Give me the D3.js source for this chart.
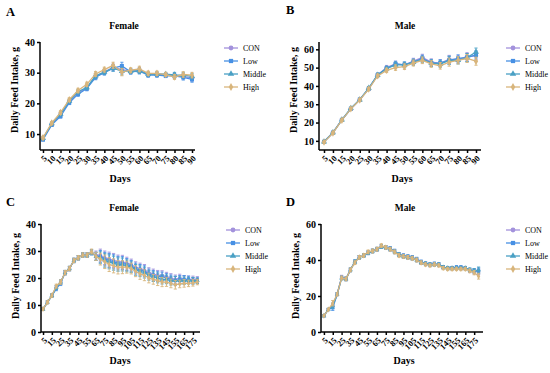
<!DOCTYPE html>
<html>
<head>
<meta charset="utf-8">
<script src="https://cdn.jsdelivr.net/npm/d3@7"></script>
<style>
  body { margin: 0; background: #fff; }
  text { font-family: "Liberation Serif", "Times New Roman", serif; }
</style>
</head>
<body>
<script>
// groups and colours
var groups = ["CON", "Low", "Middle", "High"];
var colors = ["#a392dc", "#4790e4", "#4aa0c4", "#d8b57c"];
var symbols = [d3.symbolCircle, d3.symbolSquare, d3.symbolTriangle, d3.symbolDiamond];

// days (90 day trials)
var daysShort = [5,10,15,20,25,30,35,40,45,50,55,60,65,70,75,80,85,90];
var ticksShort = [5,10,15,20,25,30,35,40,45,50,55,60,65,70,75,80,85,90];
// days (180 day trials)
var daysLong = [5,10,15,20,25,30,35,40,45,50,55,60,65,70,75,80,85,90,95,100,105,110,115,120,125,130,135,140,145,150,155,160,165,170,175,180];
var ticksLong = [5,15,25,35,45,55,65,75,85,95,105,115,125,135,145,155,165,175];

// A - female, 90 days
var aCON    = [8.5,13.2,16.3,20.5,23.5,25.0,28.8,30.2,31.8,31.0,30.5,30.8,29.5,29.5,29.3,29.0,28.8,28.2];
var aLow    = [8.2,13.0,15.8,20.2,23.0,24.8,28.5,30.0,31.5,32.2,30.3,30.5,29.2,29.2,29.0,29.0,28.5,27.8];
var aMiddle = [8.6,13.4,16.5,20.8,23.8,25.2,29.0,30.2,31.5,30.5,30.5,30.6,29.5,29.6,29.5,29.3,29.2,28.8];
var aHigh   = [8.8,13.6,17.0,21.2,24.2,26.2,29.6,31.0,32.4,30.2,30.8,31.2,29.8,29.8,29.4,28.6,29.4,29.2];
var aErr    = [0.5,0.5,0.6,0.6,0.7,0.7,0.8,0.8,1.0,1.2,0.8,0.9,0.7,0.7,0.6,0.8,0.9,0.9];

// B - male, 90 days
var bCON    = [9.5,14.5,21.5,27.5,32.5,38.5,46.0,50.0,52.0,51.5,53.5,55.5,53.0,52.5,54.5,54.5,56.0,56.5];
var bLow    = [9.5,14.5,21.5,27.5,32.5,38.5,46.0,49.5,52.0,51.5,53.0,55.0,52.5,52.5,54.0,55.0,55.5,57.0];
var bMiddle = [9.5,14.5,21.5,27.8,32.5,38.8,46.0,49.5,51.5,51.5,53.0,54.5,52.5,52.0,54.0,54.0,55.5,58.5];
var bHigh   = [9.3,14.3,21.3,27.5,32.3,38.3,45.5,48.5,50.0,50.5,52.5,54.0,52.0,51.0,53.0,54.0,55.0,53.5];
var bErr    = [0.6,0.6,0.7,0.7,0.8,0.9,1.0,1.2,1.5,1.5,1.6,1.8,1.8,1.8,2.2,2.0,2.2,2.2];

// C - female, 180 days
var cCON    = [8.5,11,13.5,16.5,18.5,22,23.5,26.5,27.5,28.5,28.5,29.5,28.5,28.5,27.5,27,26.5,26,26,25.5,25,24,23.5,23,22,21.5,21,21,20.5,20,19.5,20,19.5,19.5,19.5,19.5];
var cLow    = [8.5,11,13.5,16,18,22,23.5,26.5,27.5,28.5,28.5,29.5,28,28,27,26.5,26,25.5,25.5,25,24.5,23.5,23,22.5,21.5,21,20.5,20.5,20,19.5,19,19.5,19.5,19.5,19,19];
var cMiddle = [8.5,11,13.5,16.5,18.5,22,23.5,26.5,27.5,28.5,28.5,29.5,28,27.5,26.5,26,25.5,25,25,24.5,24,23,22.5,22,21,20.5,20,19.5,19.5,19,19,19,19,19,19,19];
var cHigh   = [8.5,11,13.5,17,18.5,22,23.5,26.5,27.5,28.5,28.5,29.8,28,27,26,25,24.5,24,24,24,23.5,22.5,21.5,21,20,19.5,19,18.5,18.5,18,17.5,17.8,18,18,18.2,18.5];
var cErr    = [0.4,0.5,0.6,0.7,0.8,0.8,0.8,0.8,0.8,0.8,0.8,0.9,1.5,2.2,2.5,2.6,2.6,2.5,2.4,2.2,2.0,2.0,2.0,2.0,1.8,1.8,1.8,1.7,1.6,1.6,1.6,1.4,1.4,1.2,1.2,1.0];

// D - male, 180 days
var dCON    = [9,12.5,14.5,21,30.5,29.5,34.5,39,41.5,42.5,44,45,46,47.5,47,46,44.5,43,42,41.5,41,40,38.5,38,37.5,37.5,37.5,36,35.5,35.5,35.5,35.5,35.5,34,33.5,33.5];
var dLow    = [9,12.5,13.5,21,30,29.5,34.5,39,41.5,42.5,44,45,46,47.5,47,46.5,45,43,42.5,42,41.5,40.5,39,38,37.5,38,37.5,36,35.5,35.5,36,36,35.5,34.5,34,34];
var dMiddle = [9,12.5,14.5,21,30,29.5,34.5,39,41.5,42.5,44,45,46,47.5,47,46,44.5,43,42,41.5,41,40,38.5,38,37.5,37.5,37.5,36,35.5,35.5,35.5,35.5,35.5,34.5,34,34.5];
var dHigh   = [9,12.5,16,21,30,29.5,34.5,38.5,41.5,42.5,44.5,45,46,48,47,46,44.5,42.5,42,41.5,41,40,38.5,37.5,37,37.5,37,35.5,35,35,35,35,35,34,33,31];
var dErr    = [0.5,0.6,1.5,0.8,1.0,1.0,1.0,1.0,1.0,1.0,1.0,1.0,1.0,1.0,1.0,1.0,1.0,1.0,1.0,1.0,1.0,1.0,1.0,0.9,0.9,0.9,0.9,0.9,0.9,0.9,0.9,0.9,0.9,1.0,1.2,1.6];

var FONT = "'Liberation Serif', 'Times New Roman', serif";

var svg = d3.select("body").append("svg")
    .attr("width", 550)
    .attr("height", 373)
    .attr("font-family", FONT);
svg.append("rect").attr("width", 550).attr("height", 373).attr("fill", "#fff");

function drawPanel(p) {
  var g = svg.append("g");
  var x = d3.scaleLinear().domain(p.xDomain).range([p.left, p.right]);
  var y = d3.scaleLinear().domain(p.yDomain).range([p.bottom, p.top]);

  // series
  p.series.forEach(function (vals, k) {
    var pts = p.days.map(function (d, i) { return {d: d, v: vals[i], e: p.err[i]}; });
    var sg = g.append("g");
    sg.append("path")
      .datum(pts)
      .attr("fill", "none")
      .attr("stroke", colors[k])
      .attr("stroke-width", 1.3)
      .attr("d", d3.line().x(function (o) { return x(o.d); }).y(function (o) { return y(o.v); }));
    var eb = sg.selectAll(".eb").data(pts).enter().append("g");
    eb.append("line")
      .attr("x1", function (o) { return x(o.d); }).attr("x2", function (o) { return x(o.d); })
      .attr("y1", function (o) { return y(o.v - o.e); }).attr("y2", function (o) { return y(o.v + o.e); })
      .attr("stroke", colors[k]).attr("stroke-width", 0.9);
    [-1, 1].forEach(function (s) {
      eb.append("line")
        .attr("x1", function (o) { return x(o.d) - 1.6; }).attr("x2", function (o) { return x(o.d) + 1.6; })
        .attr("y1", function (o) { return y(o.v + s * o.e); }).attr("y2", function (o) { return y(o.v + s * o.e); })
        .attr("stroke", colors[k]).attr("stroke-width", 0.9);
    });
    sg.selectAll(".pt").data(pts).enter().append("path")
      .attr("transform", function (o) { return "translate(" + x(o.d) + "," + y(o.v) + ")"; })
      .attr("d", d3.symbol().type(symbols[k]).size(p.mSize))
      .attr("fill", colors[k]);
  });

  // axes
  var xa = g.append("g").attr("transform", "translate(0," + p.bottom + ")")
    .call(d3.axisBottom(x).tickValues(p.ticks).tickSize(3).tickSizeOuter(0));
  xa.selectAll("text")
    .attr("font-size", 8.5).attr("font-weight", "bold")
    .attr("text-anchor", "end")
    .attr("x", 0).attr("y", 0).attr("dy", "0.35em")
    .attr("transform", "translate(2,7) rotate(-45)");
  var ya = g.append("g").attr("transform", "translate(" + p.left + ",0)")
    .call(d3.axisLeft(y).tickValues(p.yTicks).tickSize(3).tickSizeOuter(0).tickPadding(2));
  ya.selectAll("text").attr("font-size", 10).attr("font-weight", "bold");
  xa.attr("font-family", FONT);
  ya.attr("font-family", FONT);
  g.selectAll(".domain, .tick line").attr("stroke", "#000").attr("stroke-width", 1.5);
  xa.select(".domain").attr("d", "M" + p.left + ",0H" + p.right);
  ya.select(".domain").attr("d", "M0," + p.bottom + "V" + p.top);

  // labels
  g.append("text").attr("x", p.letter[0]).attr("y", p.letter[1])
    .attr("font-size", 12.5).attr("font-weight", "bold").text(p.name);
  g.append("text").attr("x", p.titleX).attr("y", p.top - 13)
    .attr("text-anchor", "middle").attr("font-size", 9.5).attr("font-weight", "bold").text(p.title);
  g.append("text").attr("x", p.daysX).attr("y", p.bottom + 32)
    .attr("text-anchor", "middle").attr("font-size", 10).attr("font-weight", "bold").text("Days");
  g.append("text")
    .attr("transform", "translate(" + (p.left - 22) + "," + p.yLabelY + ") rotate(-90)")
    .attr("text-anchor", "middle").attr("font-size", 10).attr("font-weight", "bold")
    .text("Daily Feed Intake, g");

  // legend
  groups.forEach(function (name, k) {
    var ly = p.legY + k * 13;
    g.append("line").attr("x1", p.legX).attr("x2", p.legX + 14)
      .attr("y1", ly).attr("y2", ly).attr("stroke", colors[k]).attr("stroke-width", 1.3);
    g.append("path").attr("transform", "translate(" + (p.legX + 7) + "," + ly + ")")
      .attr("d", d3.symbol().type(symbols[k]).size(18)).attr("fill", colors[k]);
    g.append("text").attr("x", p.legX + 19).attr("y", ly + 3)
      .attr("font-size", 8).text(name);
  });
}

drawPanel({name: "A", letter: [6, 16], title: "Female", titleX: 124, daysX: 120,
  left: 40, right: 195, top: 42, bottom: 150, yLabelY: 90,
  xDomain: [3.3, 91.7], yDomain: [4.8, 40], ticks: ticksShort, yTicks: [10, 20, 30, 40],
  days: daysShort, series: [aCON, aLow, aMiddle, aHigh], err: aErr, mSize: 16,
  legX: 224, legY: 48});

drawPanel({name: "B", letter: [286, 14], title: "Male", titleX: 405, daysX: 402,
  left: 319, right: 481, top: 42, bottom: 150, yLabelY: 90,
  xDomain: [2.2, 92.8], yDomain: [5, 64], ticks: ticksShort, yTicks: [10, 20, 30, 40, 50, 60],
  days: daysShort, series: [bCON, bLow, bMiddle, bHigh], err: bErr, mSize: 16,
  legX: 506, legY: 48});

drawPanel({name: "C", letter: [6, 206], title: "Female", titleX: 124, daysX: 120,
  left: 41, right: 200, top: 224, bottom: 332, yLabelY: 276,
  xDomain: [2.7, 183], yDomain: [0, 40], ticks: ticksLong, yTicks: [0, 10, 20, 30, 40],
  days: daysLong, series: [cCON, cLow, cMiddle, cHigh], err: cErr, mSize: 10,
  legX: 226, legY: 230});

drawPanel({name: "D", letter: [286, 206], title: "Male", titleX: 405, daysX: 404,
  left: 321, right: 483, top: 224, bottom: 332, yLabelY: 276,
  xDomain: [1.7, 185], yDomain: [0, 60], ticks: ticksLong, yTicks: [0, 20, 40, 60],
  days: daysLong, series: [dCON, dLow, dMiddle, dHigh], err: dErr, mSize: 10,
  legX: 506, legY: 230});
</script>
</body>
</html>
